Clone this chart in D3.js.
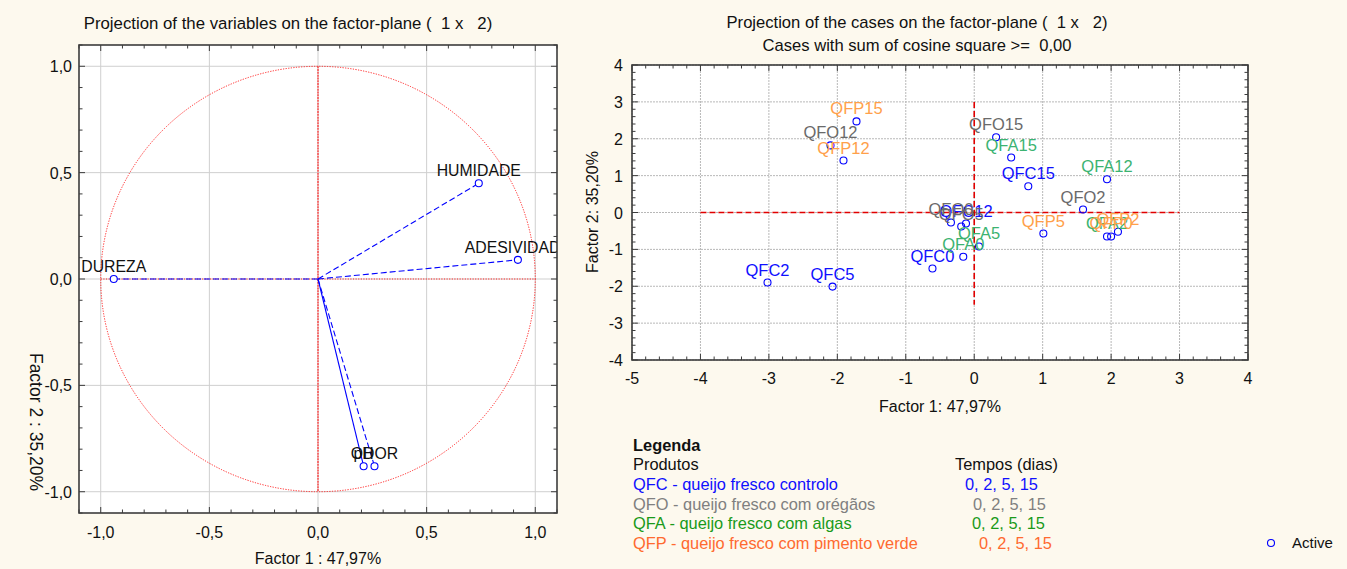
<!DOCTYPE html>
<html>
<head>
<meta charset="utf-8">
<script src="https://cdn.jsdelivr.net/npm/d3@7/dist/d3.min.js"></script>
<style>
  html, body { margin: 0; padding: 0; background: #fdf9ee; }
  svg { display: block; font-family: Arial, "Liberation Sans", sans-serif; }
  text { white-space: pre; }
</style>
</head>
<body>
<svg id="chart" width="1347" height="569"></svg>
<script>
// ---- Variables (loadings on factors 1 and 2) ----
const varNames = ["DUREZA", "HUMIDADE", "ADESIVIDADE", "pH", "ODOR"];
const varF1 = [-0.94, 0.74, 0.92, 0.21, 0.26];
const varF2 = [0.00, 0.45, 0.09, -0.88, -0.88];
const varDashed = [true, true, true, false, true];

// ---- Cases (scores on factors 1 and 2) ----
const caseNames = ["QFC0", "QFC2", "QFC5", "QFC12", "QFC15",
                   "QFO0", "QFO2", "QFO5", "QFO12", "QFO15",
                   "QFA0", "QFA2", "QFA5", "QFA12", "QFA15",
                   "QFP0", "QFP2", "QFP5", "QFP12", "QFP15"];
const caseF1 = [-0.61, -3.02, -2.07, -0.12, 0.79,
                -0.34, 1.59, -0.19, -2.10, 0.32,
                -0.16, 1.94, 0.07, 1.94, 0.54,
                2.00, 2.10, 1.01, -1.91, -1.72];
const caseF2 = [-1.52, -1.90, -2.01, -0.30, 0.71,
                -0.27, 0.08, -0.38, 1.82, 2.04,
                -1.20, -0.65, -0.92, 0.90, 1.49,
                -0.65, -0.52, -0.57, 1.41, 2.47];

// ---- Tick labels ----
const leftTicks = [-1.0, -0.5, 0.0, 0.5, 1.0];
const leftTickLabels = ["-1,0", "-0,5", "0,0", "0,5", "1,0"];
const rightXTicks = [-5, -4, -3, -2, -1, 0, 1, 2, 3, 4];
const rightYTicks = [-4, -3, -2, -1, 0, 1, 2, 3, 4];

// ---- Legend ----
const prodCodes = ["QFC", "QFO", "QFA", "QFP"];
const prodNames = ["QFC - queijo fresco controlo", "QFO - queijo fresco com orégãos",
                   "QFA - queijo fresco com algas", "QFP - queijo fresco com pimento verde"];
const prodTimes = ["0, 2, 5, 15", "0, 2, 5, 15", "0, 2, 5, 15", "0, 2, 5, 15"];
const labelColors = { QFC: "#1010ff", QFO: "#6a6a6a", QFA: "#3cb371", QFP: "#ffa04a" };
const legendColors = { QFC: "#1010ff", QFO: "#808080", QFA: "#1a9a1a", QFP: "#ff6a30" };

const svg = d3.select("#chart");
const BLUE = "#0000ff";
const FRAME = "#3c3c3c";

function frameTicks(g, x, y, xMinor, yMinor, xMajor, yMajor) {
  const [x0, x1] = x.range(), [y0, y1] = y.range();
  const t = g.append("g").attr("stroke", FRAME).attr("stroke-width", 1);
  xMinor.forEach(v => {
    const len = xMajor.some(m => Math.abs(m - v) < 1e-6) ? 6 : 3.5;
    t.append("line").attr("x1", x(v)).attr("x2", x(v)).attr("y1", y0).attr("y2", y0 - len);
    t.append("line").attr("x1", x(v)).attr("x2", x(v)).attr("y1", y1).attr("y2", y1 + len);
  });
  yMinor.forEach(v => {
    const len = yMajor.some(m => Math.abs(m - v) < 1e-6) ? 6 : 3.5;
    t.append("line").attr("y1", y(v)).attr("y2", y(v)).attr("x1", x0).attr("x2", x0 + len);
    t.append("line").attr("y1", y(v)).attr("y2", y(v)).attr("x1", x1).attr("x2", x1 - len);
  });
  g.append("rect").attr("x", x0).attr("y", y1).attr("width", x1 - x0).attr("height", y0 - y1)
    .attr("fill", "none").attr("stroke", FRAME).attr("stroke-width", 1.6);
}

// ================= Left panel: variables =================
{
  const x = d3.scaleLinear().domain([-1.1, 1.1]).range([79, 557]);
  const y = d3.scaleLinear().domain([-1.1, 1.1]).range([513, 45]);
  const g = svg.append("g");

  g.append("rect").attr("x", 79).attr("y", 45).attr("width", 478).attr("height", 468).attr("fill", "#fff");

  // grid
  leftTicks.forEach(v => {
    g.append("line").attr("x1", x(v)).attr("x2", x(v)).attr("y1", 45).attr("y2", 513)
      .attr("stroke", "#cfcfcf").attr("stroke-width", 1);
    g.append("line").attr("y1", y(v)).attr("y2", y(v)).attr("x1", 79).attr("x2", 557)
      .attr("stroke", "#cfcfcf").attr("stroke-width", 1);
  });

  // unit circle and reference lines
  g.append("ellipse").attr("cx", x(0)).attr("cy", y(0)).attr("rx", x(1) - x(0)).attr("ry", y(0) - y(1))
    .attr("fill", "none").attr("stroke", "#ff2020").attr("stroke-width", 1).attr("stroke-dasharray", "1.2,1.4");
  g.append("line").attr("x1", x(-1)).attr("x2", x(1)).attr("y1", y(0)).attr("y2", y(0))
    .attr("stroke", "#ff2020").attr("stroke-width", 1).attr("stroke-dasharray", "1.2,1.4");
  g.append("line").attr("x1", x(0)).attr("x2", x(0)).attr("y1", y(1)).attr("y2", y(-1))
    .attr("stroke", "#ff2020").attr("stroke-width", 1.2).attr("stroke-dasharray", "2,0.8");

  const clip = svg.append("defs").append("clipPath").attr("id", "clipL");
  clip.append("rect").attr("x", 79).attr("y", 45).attr("width", 478).attr("height", 468);
  const p = g.append("g").attr("clip-path", "url(#clipL)");

  varNames.forEach((n, i) => {
    p.append("line").attr("x1", x(0)).attr("y1", y(0)).attr("x2", x(varF1[i])).attr("y2", y(varF2[i]))
      .attr("stroke", BLUE).attr("stroke-width", 1.1)
      .attr("stroke-dasharray", varDashed[i] ? "6,3" : null);
  });
  varNames.forEach((n, i) => {
    p.append("circle").attr("cx", x(varF1[i])).attr("cy", y(varF2[i])).attr("r", 3.5)
      .attr("fill", "#fff").attr("stroke", BLUE).attr("stroke-width", 1.1);
    p.append("text").attr("x", x(varF1[i])).attr("y", y(varF2[i]) - 7)
      .attr("text-anchor", "middle").attr("font-size", 15.8).attr("fill", "#111").text(n);
  });

  const minor = d3.range(-11, 12).map(k => k / 10);
  frameTicks(g, x, y, minor, minor, leftTicks, leftTicks);

  leftTicks.forEach((v, i) => {
    g.append("text").attr("x", x(v)).attr("y", 538).attr("text-anchor", "middle")
      .attr("font-size", 16).attr("fill", "#111").text(leftTickLabels[i]);
    g.append("text").attr("x", 72).attr("y", y(v) + 6).attr("text-anchor", "end")
      .attr("font-size", 16).attr("fill", "#111").text(leftTickLabels[i]);
  });

  g.append("text").attr("x", 288).attr("y", 29).attr("text-anchor", "middle")
    .attr("font-size", 16.8).attr("fill", "#111").text("Projection of the variables on the factor-plane (  1 x   2)");
  g.append("text").attr("x", 318).attr("y", 564).attr("text-anchor", "middle")
    .attr("font-size", 16).attr("fill", "#111").text("Factor 1 : 47,97%");
  g.append("text").attr("transform", "translate(30,422) rotate(90)").attr("text-anchor", "middle")
    .attr("font-size", 17.5).attr("fill", "#111").text("Factor 2 : 35,20%");
}

// ================= Right panel: cases =================
{
  const x = d3.scaleLinear().domain([-5, 4]).range([632, 1248]);
  const y = d3.scaleLinear().domain([-4, 4]).range([360, 65]);
  const g = svg.append("g");

  g.append("rect").attr("x", 632).attr("y", 65).attr("width", 616).attr("height", 295).attr("fill", "#fff");

  rightXTicks.forEach(v => {
    g.append("line").attr("x1", x(v)).attr("x2", x(v)).attr("y1", 65).attr("y2", 360)
      .attr("stroke", "#b8b8b8").attr("stroke-width", 1).attr("stroke-dasharray", "2,1");
  });
  rightYTicks.forEach(v => {
    g.append("line").attr("y1", y(v)).attr("y2", y(v)).attr("x1", 632).attr("x2", 1248)
      .attr("stroke", "#b8b8b8").attr("stroke-width", 1).attr("stroke-dasharray", "2,1");
  });

  // origin reference lines
  g.append("line").attr("x1", x(-4)).attr("x2", x(3)).attr("y1", y(0)).attr("y2", y(0))
    .attr("stroke", "#e00000").attr("stroke-width", 1.3).attr("stroke-dasharray", "6,3");
  g.append("line").attr("x1", x(0)).attr("x2", x(0)).attr("y1", y(3)).attr("y2", y(-2.5))
    .attr("stroke", "#e00000").attr("stroke-width", 1.6).attr("stroke-dasharray", "6,3");

  const clip = svg.select("defs").append("clipPath").attr("id", "clipR");
  clip.append("rect").attr("x", 632).attr("y", 65).attr("width", 616).attr("height", 295);
  const p = g.append("g").attr("clip-path", "url(#clipR)");

  caseNames.forEach((n, i) => {
    p.append("circle").attr("cx", x(caseF1[i])).attr("cy", y(caseF2[i])).attr("r", 3.5)
      .attr("fill", "none").attr("stroke", BLUE).attr("stroke-width", 1.1);
  });
  caseNames.forEach((n, i) => {
    p.append("text").attr("x", x(caseF1[i])).attr("y", y(caseF2[i]) - 7)
      .attr("text-anchor", "middle").attr("font-size", 16.5)
      .attr("fill", labelColors[n.slice(0, 3)]).text(n);
  });

  const xMinor = d3.range(-25, 21).map(k => k / 5);
  const yMinor = d3.range(-20, 21).map(k => k / 5);
  frameTicks(g, x, y, xMinor, yMinor, rightXTicks, rightYTicks);

  rightXTicks.forEach(v => {
    g.append("text").attr("x", x(v)).attr("y", 384).attr("text-anchor", "middle")
      .attr("font-size", 16).attr("fill", "#111").text(String(v));
  });
  rightYTicks.forEach(v => {
    g.append("text").attr("x", 623).attr("y", y(v) + 6).attr("text-anchor", "end")
      .attr("font-size", 16).attr("fill", "#111").text(String(v));
  });

  g.append("text").attr("x", 917).attr("y", 28).attr("text-anchor", "middle")
    .attr("font-size", 16.6).attr("fill", "#111").text("Projection of the cases on the factor-plane (  1 x   2)");
  g.append("text").attr("x", 917).attr("y", 51).attr("text-anchor", "middle")
    .attr("font-size", 16.6).attr("fill", "#111").text("Cases with sum of cosine square >=  0,00");
  g.append("text").attr("x", 940).attr("y", 412).attr("text-anchor", "middle")
    .attr("font-size", 16).attr("fill", "#111").text("Factor 1: 47,97%");
  g.append("text").attr("transform", "translate(598,212) rotate(-90)").attr("text-anchor", "middle")
    .attr("font-size", 16).attr("fill", "#111").text("Factor 2: 35,20%");

  // marker legend
  g.append("circle").attr("cx", 1271).attr("cy", 543).attr("r", 3.5)
    .attr("fill", "none").attr("stroke", BLUE).attr("stroke-width", 1.1);
  g.append("text").attr("x", 1292).attr("y", 548).attr("font-size", 15).attr("fill", "#111").text("Active");
}

// ================= Product legend =================
{
  const g = svg.append("g").attr("font-size", 16.4);
  g.append("text").attr("x", 633).attr("y", 451).attr("font-weight", "bold").attr("fill", "#111").text("Legenda");
  g.append("text").attr("x", 633).attr("y", 470).attr("fill", "#111").text("Produtos");
  g.append("text").attr("x", 955).attr("y", 470).attr("fill", "#111").text("Tempos (dias)");
  const timeX = [965, 973, 972, 979];
  prodCodes.forEach((c, i) => {
    const yy = 490 + i * 19.5;
    g.append("text").attr("x", 633).attr("y", yy).attr("fill", legendColors[c]).text(prodNames[i]);
    g.append("text").attr("x", timeX[i]).attr("y", yy).attr("fill", legendColors[c]).text(prodTimes[i]);
  });
}
</script>
</body>
</html>
